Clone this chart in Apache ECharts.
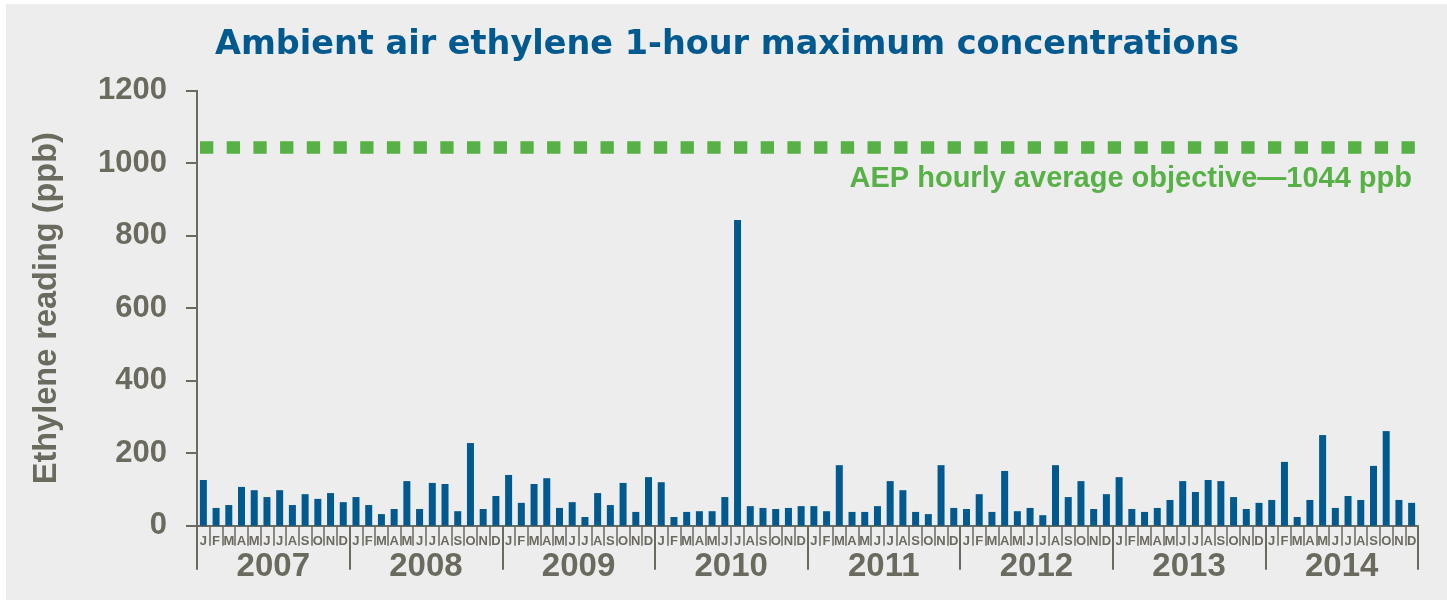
<!DOCTYPE html>
<html>
<head>
<meta charset="utf-8">
<script src="https://cdn.jsdelivr.net/npm/echarts@6/dist/echarts.min.js"></script>
<style>
html,body{margin:0;padding:0;background:#ffffff;}
#chart{width:1447px;height:600px;}
</style>
</head>
<body>
<div id="chart"></div>
<script>
const years = ['2007','2008','2009','2010','2011','2012','2013','2014'];
const monthLetters = ['J','F','M','A','M','J','J','A','S','O','N','D'];
const v2007 = [126,49,57,107,98,79,98,57,87,74,90,65];
const v2008 = [79,57,32,46,123,46,118,115,40,228,46,82];
const v2009 = [140,63,115,131,49,65,24,90,57,118,38,134];
const v2010 = [120,24,38,40,40,79,843,54,49,46,49,54];
const v2011 = [54,40,167,38,38,54,123,98,38,32,167,49];
const v2012 = [46,87,38,151,40,49,29,167,79,123,46,87];
const v2013 = [134,46,38,49,71,123,93,126,123,79,46,63];
const v2014 = [71,176,24,71,250,49,82,71,165,261,71,63];
const objective = 1044;
const yTicks = [0,200,400,600,800,1000,1200];

const allValues = [].concat(v2007,v2008,v2009,v2010,v2011,v2012,v2013,v2014);
const categories = [];
years.forEach(y => monthLetters.forEach((m,i) => categories.push(y + '-' + i)));

const gray = '#6b6a5f';
const blue = '#005a8f';
const green = '#57b146';
const ff = '"Liberation Sans", Arial, sans-serif';

const chart = echarts.init(document.getElementById('chart'), null, {renderer:'canvas'});
const bgRect = {
  type: 'rect', z: -10, silent: true,
  shape: {x: 6, y: 4, width: 1441, height: 596},
  style: {fill: '#ededed'}
};
chart.setOption({
  backgroundColor: '#ffffff',
  animation: false,
  graphic: [bgRect],
  title: {
    text: 'Ambient air ethylene 1-hour maximum concentrations',
    left: 210, top: 23,
    textStyle: {color: blue, fontSize: 33.5, fontWeight: 'bold', fontFamily: '"DejaVu Sans", sans-serif'}
  },
  grid: {left: 197, right: 29, top: 90.7, bottom: 74.3, containLabel: false},
  xAxis: [{
    type: 'category',
    data: categories,
    boundaryGap: true,
    axisLine: {show: true, lineStyle: {color: gray, width: 2}},
    axisTick: {show: true, interval: 0, length: 20, lineStyle: {color: gray, width: 1.5}},
    axisLabel: {
      interval: 0, margin: 9, color: gray, fontSize: 13, fontWeight: 'bold',
      fontFamily: ff,
      formatter: (val) => monthLetters[+val.split('-')[1]]
    },
    splitLine: {show: false}
  }, {
    type: 'category',
    data: years,
    position: 'bottom',
    boundaryGap: true,
    axisLine: {show: false},
    axisTick: {show: true, interval: 0, length: 44, lineStyle: {color: gray, width: 2}},
    axisLabel: {interval: 0, margin: 25, color: gray, fontSize: 33, fontWeight: 'bold', fontFamily: ff},
    splitLine: {show: false}
  }],
  yAxis: {
    type: 'value',
    min: 0, max: 1200, interval: 200,
    name: 'Ethylene reading (ppb)',
    nameLocation: 'middle',
    nameGap: 133,
    nameRotate: 90,
    nameTextStyle: {color: gray, fontSize: 32.5, fontWeight: 'bold', fontFamily: ff},
    axisLine: {show: true, lineStyle: {color: gray, width: 2}},
    axisTick: {show: true, length: 11, lineStyle: {color: gray, width: 2}},
    axisLabel: {margin: 30, color: gray, fontSize: 31, fontWeight: 'bold', fontFamily: ff,
      formatter: (v) => yTicks.indexOf(v) >= 0 ? String(v) : ''},
    splitLine: {show: false}
  },
  series: [{
    type: 'bar',
    xAxisIndex: 0,
    data: allValues,
    barWidth: 7,
    itemStyle: {color: blue},
    markLine: {
      silent: true,
      symbol: ['none','none'],
      label: {show: false},
      lineStyle: {color: green, width: 12.7, type: [13.3, 13.4], dashOffset: -3, cap: 'butt'},
      data: [{yAxis: objective}]
    }
  }]
});

// objective label
const py = chart.convertToPixel({yAxisIndex: 0}, objective);
chart.setOption({
  graphic: [bgRect, {
    type: 'text', silent: true,
    right: 35, top: py + 17,
    style: {text: 'AEP hourly average objective\u20141044 ppb', fill: green,
      font: 'bold 29px "Liberation Sans", Arial, sans-serif'}
  }]
});
</script>
</body>
</html>
